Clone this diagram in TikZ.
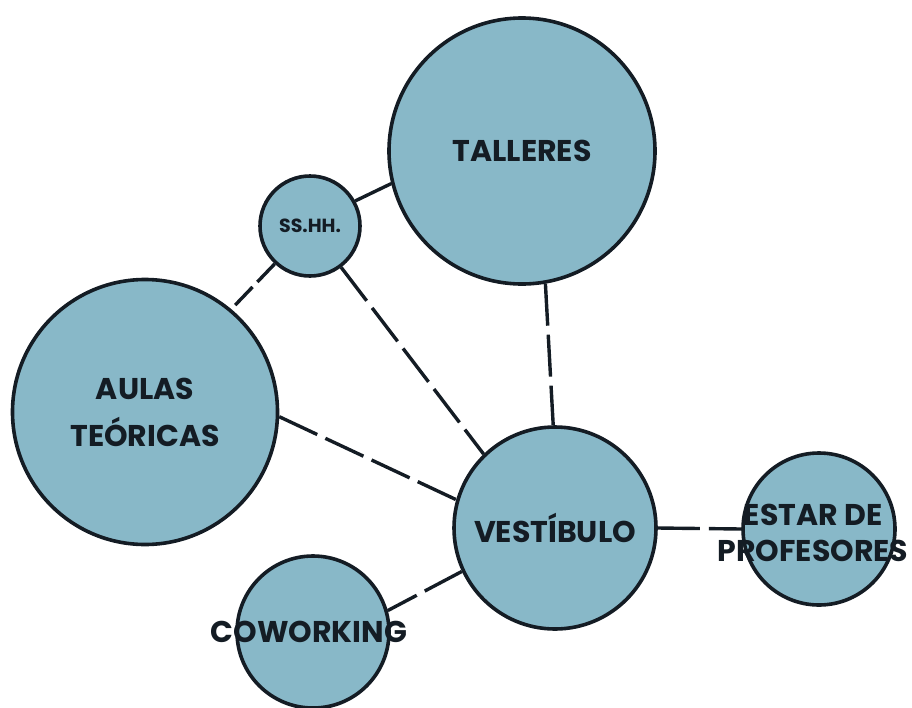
\documentclass[tikz,border=0pt]{standalone}
\usepackage{fontspec}
\setmainfont{Poppins}
\usetikzlibrary{positioning}
\definecolor{roomInk}{HTML}{141C24}
\definecolor{roomFill}{HTML}{88B8C8}
\tikzset{
  every picture/.style={font=\bfseries\fontsize{30}{34}\selectfont, text=roomInk},
  room/.style={circle, draw=roomInk, line width=3.6pt, fill=roomFill,
    align=center, inner sep=0pt},
  room small/.style={font=\bfseries\fontsize{19}{22}\selectfont},
  room label/.style={align=center, inner sep=0pt},
  link/.style={draw=roomInk, line width=3.4pt},
  link dashed/.style={link, dash pattern=on 42pt off 9pt}
}

\begin{document}
\begin{tikzpicture}[x=1pt,y=-1pt]
  \useasboundingbox (0,0) rectangle (912,707);
  % rooms
  \node[room, minimum size=266pt] (talleres) at (522,151) {TALLERES};
  \node[room, room small, minimum size=100pt] (sshh) at (310,226) {SS.HH.};
  \node[room, minimum size=265pt] (aulas) at (145,412) {AULAS\\[13pt]TEÓRICAS};
  \node[room, minimum size=202pt] (vestibulo) at (555,528) {VESTÍBULO};
  \node[room, minimum size=152pt] (estar) at (819,529) {};
  \node[room label] (estar text) at (813,533) {ESTAR DE\\[2pt]PROFESORES};
  \node[room, minimum size=152pt] (coworking) at (313,632) {};
  \node[room label] (coworking text) at (309,632) {COWORKING};
  % links
  \draw[link] (sshh.29) -- (talleres.-166);
  \draw[link dashed, dash pattern=on 25pt off 7pt] (sshh.227) -- (aulas.50);
  \draw[link dashed] (sshh.-53) -- (vestibulo.134);
  \draw[link dashed] (talleres.-80) -- (vestibulo.91);
  \draw[link dashed] (aulas.-2) -- (vestibulo.164);
  \draw[link dashed] (vestibulo.0) -- (estar.180);
  \draw[link dashed] (vestibulo.205) -- (coworking.16);
\end{tikzpicture}
\end{document}
